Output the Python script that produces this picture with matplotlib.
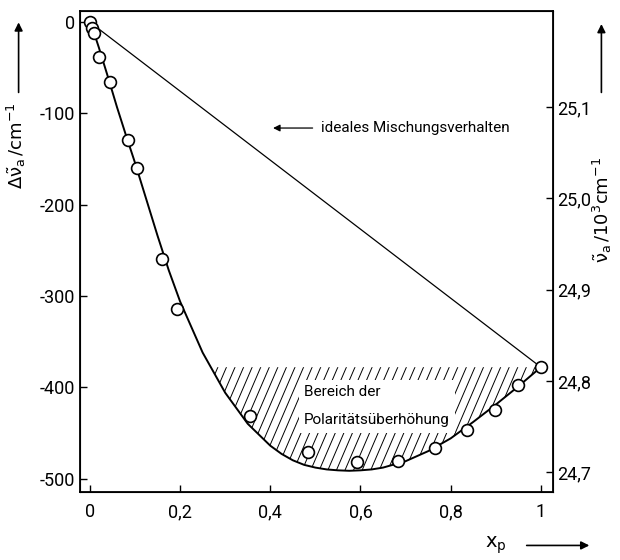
import numpy as np
import matplotlib
matplotlib.use("Agg")
import matplotlib.pyplot as plt

# measured points: mole fraction x_p and shift of the band maximum (cm^-1)
x_meas = [0.0, 0.004, 0.009, 0.020, 0.044, 0.084, 0.104, 0.160, 0.193,
          0.355, 0.483, 0.592, 0.683, 0.765, 0.836, 0.898, 0.949, 1.0]
dnu_meas = [0, -6, -12, -38, -66, -129, -160, -260, -314,
            -432, -471, -482, -481, -467, -447, -425, -398, -378]

# drawn curve
x_curve = [0.0, 0.01, 0.02, 0.04, 0.06, 0.08, 0.10, 0.125, 0.15, 0.175,
           0.20, 0.25, 0.30, 0.35, 0.40, 0.425, 0.45, 0.475, 0.50, 0.525,
           0.55, 0.575, 0.60, 0.625, 0.65, 0.70, 0.75, 0.80, 0.85, 0.90,
           0.95, 1.0]
dnu_curve = [0, -13, -28, -60, -93, -124, -154, -194, -234, -272,
             -306, -362, -406, -440, -464, -473, -480, -485, -488, -490,
             -491, -491.5, -491, -490, -488, -481, -470, -456, -438, -419,
             -399, -378]

# ideal mixing line
x_ideal = [0.0, 1.0]
dnu_ideal = [0, -378]

nu_offset = 25.193  # right axis: nu_a / 10^3 cm^-1 = offset + dnu/1000

xticks = [0, 0.2, 0.4, 0.6, 0.8, 1.0]
xticklabels = ["0", "0,2", "0,4", "0,6", "0,8", "1"]
yticks = [0, -100, -200, -300, -400, -500]
rticks = [24.7, 24.8, 24.9, 25.0, 25.1]
rticklabels = ["24,7", "24,8", "24,9", "25,0", "25,1"]

plt.rcParams["font.family"] = ["Roboto", "DejaVu Sans"]
plt.rcParams["mathtext.fontset"] = "dejavusans"

fig = plt.figure(figsize=(6.2, 5.6), dpi=100)
ax = fig.add_axes([0.129, 0.121, 0.763, 0.859])

ax.plot(x_ideal, dnu_ideal, color="black", lw=0.9)
ax.plot(x_curve, dnu_curve, color="black", lw=1.4)

xc = np.array(x_curve)
yc = np.array(dnu_curve)
level = dnu_ideal[-1]
region = ax.fill_between(xc, yc, level, where=yc <= level, interpolate=True,
                         facecolor="none", edgecolor="none", lw=0)
clip = region.get_paths()[0]

# steep hatching clipped to the region
step = 0.019
slope = 1150.0  # data units of y per unit x (about 67 degrees on screen)
for x0 in np.arange(0.15, 1.05, step):
    hl, = ax.plot([x0, x0 + 140 / slope], [-510, -370], color="black",
                  lw=0.7)
    hl.set_clip_path(clip, ax.transData)

ax.plot(x_meas, dnu_meas, "o", ms=8.5, mfc="white", mec="black", mew=1.2,
        zorder=5)

ax.annotate("", xy=(0.40, -116), xytext=(0.50, -116),
            arrowprops=dict(arrowstyle="-|>", color="black", lw=0.9,
                            mutation_scale=10))
ax.text(0.512, -116, "ideales Mischungsverhalten", fontsize=11,
        ha="left", va="center")
ax.text(0.475, -421, "Bereich der\n\nPolaritätsüberhöhung", fontsize=11,
        ha="left", va="center", linespacing=1.0, zorder=4,
        bbox=dict(facecolor="white", edgecolor="none", pad=4))

ax.set_xlim(-0.022, 1.027)
ax.set_ylim(-515, 12)
ax.set_xticks(xticks)
ax.set_xticklabels(xticklabels)
ax.set_yticks(yticks)
ax.set_yticklabels([str(v) for v in yticks])
ax.tick_params(direction="in", length=5, width=1, labelsize=13)
ax.tick_params(axis="x", pad=8)
for s in ax.spines.values():
    s.set_linewidth(1.3)

ax2 = ax.twinx()
lo, hi = ax.get_ylim()
ax2.set_ylim(nu_offset + lo / 1000, nu_offset + hi / 1000)
ax2.set_yticks(rticks)
ax2.set_yticklabels(rticklabels)
ax2.tick_params(direction="in", length=5, width=1, labelsize=13, pad=3)

# axis labels with arrows
fig.text(0.026, 0.74, r"$\Delta\tilde{\mathrm{\nu}}_{\rm a}\,/{\rm cm}^{-1}$",
         rotation=90, ha="center", va="center", fontsize=13)
fig.text(0.972, 0.625, r"$\tilde{\mathrm{\nu}}_{\rm a}\,/10^3{\rm cm}^{-1}$",
         rotation=90, ha="center", va="center", fontsize=13)
fig.text(0.80, 0.026, r"$\mathrm{x}_{\rm p}$", ha="center", va="center",
         fontsize=14)

arrow = dict(arrowstyle="-|>", color="black", lw=1.2, mutation_scale=12)
ax.annotate("", xy=(0.03, 0.965), xytext=(0.03, 0.83),
            xycoords="figure fraction", arrowprops=arrow)
ax.annotate("", xy=(0.970, 0.962), xytext=(0.970, 0.83),
            xycoords="figure fraction", arrowprops=arrow)
ax.annotate("", xy=(0.955, 0.026), xytext=(0.845, 0.026),
            xycoords="figure fraction", arrowprops=arrow)

fig.savefig("out.png", dpi=100)
